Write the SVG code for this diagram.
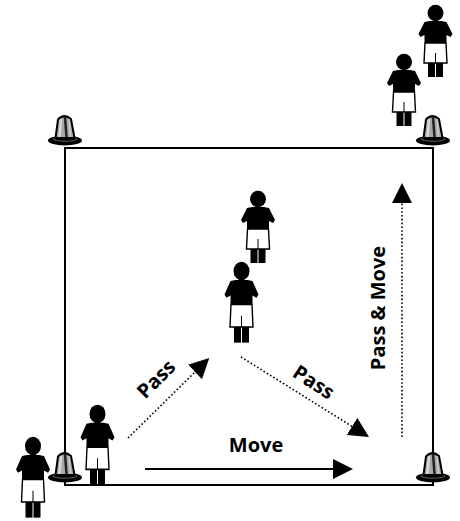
<svg xmlns="http://www.w3.org/2000/svg" xmlns:xlink="http://www.w3.org/1999/xlink" width="460" height="521" viewBox="0 0 460 521">
<style>
.lbl{font-family:"Open Sans","DejaVu Sans",sans-serif;font-weight:bold;font-size:20px;fill:#000}
.dot{fill:none;stroke:#000;stroke-width:1.6;stroke-dasharray:1.6 2.2}
.solid{fill:none;stroke:#000;stroke-width:2}
.field{fill:none;stroke:#000;stroke-width:2}
</style>
<defs>
<marker id="ah" viewBox="0 0 20 20" refX="0" refY="10" markerWidth="20" markerHeight="20" markerUnits="userSpaceOnUse" orient="auto">
<path d="M0,0 L20,10 L0,20 Z" fill="#000"/>
</marker>
<g id="player">
<path d="M-6,16 L6,16 L11,17 L17,29 L15,32 L11,30 L11,38 L-11,38 L-11,30 L-15,32 L-17,29 L-11,17 Z" fill="#000"/>
<path d="M-10.5,38 L10.5,38 L11.5,58 L-11.5,58 Z" fill="#fff" stroke="#000" stroke-width="1.4"/>
<line x1="0" y1="48" x2="0" y2="58" stroke="#000" stroke-width="1"/>
<rect x="-7.5" y="58" width="7" height="14" fill="#000"/>
<rect x="0.5" y="58" width="7" height="14" fill="#000"/>
<ellipse cx="0" cy="8" rx="8" ry="8.3" fill="#000"/>
</g>
<g id="cone">
<ellipse cx="0" cy="-7.5" rx="17" ry="5" fill="#000"/>
<ellipse cx="0" cy="-9" rx="12" ry="2.2" fill="none" stroke="#777" stroke-width="0.8"/>
<path d="M-9.5,-10 L-7,-28.5 Q-1,-35 6,-29 L9.5,-10 Z" fill="#a8a8a8" stroke="#000" stroke-width="2"/>
<path d="M-4,-29 L-5.5,-11" stroke="#d8d8d8" stroke-width="2.5"/>
<path d="M0,-31 L1.5,-11" stroke="#222" stroke-width="2.5"/>
<path d="M4,-29 L5.5,-11" stroke="#ccc" stroke-width="1.5"/>
</g>
</defs>
<rect width="460" height="521" fill="#fff"/>
<g id="field">
<rect class="field" x="65" y="148" width="368" height="337"/>
</g>
<g id="cone-tl"><use xlink:href="#cone" href="#cone" transform="translate(65,148)"/></g>
<g id="cone-tr"><use xlink:href="#cone" href="#cone" transform="translate(433,148)"/></g>
<g id="cone-bl"><use xlink:href="#cone" href="#cone" transform="translate(65,485)"/></g>
<g id="cone-br"><use xlink:href="#cone" href="#cone" transform="translate(433,485)"/></g>
<g id="connectors">
<line class="solid" x1="145" y1="469" x2="333" y2="469" marker-end="url(#ah)"/>
<line class="dot" x1="128" y1="438" x2="195" y2="372" marker-end="url(#ah)"/>
<line class="dot" x1="241" y1="357" x2="352" y2="426.4" marker-end="url(#ah)"/>
<line class="dot" x1="402" y1="437" x2="402" y2="203" marker-end="url(#ah)"/>
</g>
<g id="labels">
<text class="lbl" x="256" y="452" text-anchor="middle">Move</text>
<text class="lbl" text-anchor="middle" transform="translate(161,384) rotate(-45)">Pass</text>
<text class="lbl" text-anchor="middle" transform="translate(310,388) rotate(33)">Pass</text>
<text class="lbl" text-anchor="middle" transform="translate(384.5,308) rotate(-90)">Pass &amp; Move</text>
</g>
<g id="player-1"><use xlink:href="#player" href="#player" transform="translate(435.5,5)"/></g>
<g id="player-2"><use xlink:href="#player" href="#player" transform="translate(404,54)"/></g>
<g id="player-3"><use xlink:href="#player" href="#player" transform="translate(258,191)"/></g>
<g id="player-4"><use xlink:href="#player" href="#player" transform="translate(241.5,262) scale(1,1.12)"/></g>
<g id="player-5"><use xlink:href="#player" href="#player" transform="translate(97.5,405) scale(1,1.11)"/></g>
<g id="player-6"><use xlink:href="#player" href="#player" transform="translate(33,437) scale(1,1.12)"/></g>
</svg>
